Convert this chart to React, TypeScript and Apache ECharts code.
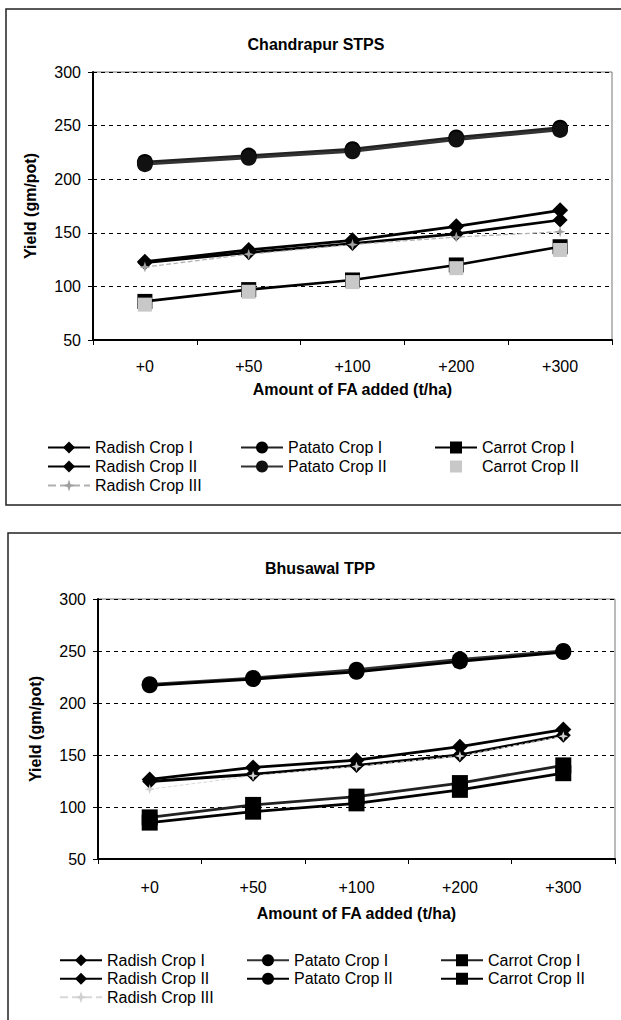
import React, { useEffect, useRef } from "react";
import * as echarts from "echarts";

const FONT = "'Liberation Sans', Arial, sans-serif";

const categories = ["+0", "+50", "+100", "+200", "+300"];
const seriesNames = [
  "Radish Crop I",
  "Patato Crop I",
  "Carrot Crop I",
  "Radish Crop II",
  "Patato Crop II",
  "Carrot Crop II",
  "Radish Crop III",
];

// Chandrapur STPS
const chandRadish1 = [123, 134, 143, 156, 171];
const chandPatato1 = [216, 222, 228, 239, 248];
const chandCarrot1 = [86, 97, 106, 120, 137];
const chandRadish2 = [122, 131.5, 140, 149, 162];
const chandPatato2 = [214, 220, 226, 237, 246];
const chandCarrot2 = [83, 95, 104, 117, 134];
const chandRadish3 = [118, 130, 139, 146, 151];

// Bhusawal TPP
const bhuRadish1 = [126.5, 138, 145, 158, 174.5];
const bhuPatato1 = [218, 224, 232, 242, 250];
const bhuCarrot1 = [90, 102, 110, 123, 140];
const bhuRadish2 = [124.5, 131.5, 140, 150, 169];
const bhuPatato2 = [217, 223, 230, 240, 249];
const bhuCarrot2 = [85, 95.5, 103.5, 116.5, 132.5];
const bhuRadish3 = [117, 130, 139, 149, 168];

const STAR = "path://M5,0 L6.2,3.8 L10,5 L6.2,6.2 L5,10 L3.8,6.2 L0,5 L3.8,3.8 Z";

function lineSeries(name, data, symbol, size, color, lineColor, lineWidth, lineType, lineOpacity) {
  return {
    type: "line",
    name,
    data,
    symbol,
    symbolSize: size,
    showSymbol: true,
    itemStyle: { color, borderColor: color, borderWidth: 0 },
    lineStyle: { color: lineColor, width: lineWidth, type: lineType, opacity: lineOpacity },
    emphasis: { disabled: true },
  };
}

function buildOption(c) {
  const legendText = { fontFamily: FONT, fontSize: 16, color: "#000", lineHeight: c.legendLine };
  const legendBase = {
    orient: "vertical",
    top: c.legendTop,
    itemWidth: 42,
    itemHeight: 15,
    itemGap: 0,
    padding: 0,
    textStyle: legendText,
    selectedMode: false,
  };
  return {
    animation: false,
    backgroundColor: "#ffffff",
    title: {
      text: c.title,
      left: c.titleX,
      top: c.titleTop,
      textAlign: "center",
      padding: 0,
      textStyle: { fontFamily: FONT, fontSize: 16, fontWeight: "bold", color: "#000" },
    },
    graphic: [
      {
        type: "rect",
        silent: true,
        shape: { x: c.box[0], y: c.box[1], width: c.box[2], height: c.box[3] },
        style: { fill: "none", stroke: "#222", lineWidth: 1.5 },
      },
    ],
    grid: {
      left: c.grid[0],
      top: c.grid[1],
      width: c.grid[2],
      height: c.grid[3],
      show: true,
      borderColor: "#777",
      borderWidth: 1,
      backgroundColor: "transparent",
    },
    xAxis: {
      type: "category",
      data: categories,
      boundaryGap: true,
      axisLine: { show: true, lineStyle: { color: "#000", width: 2 } },
      axisTick: { show: true, length: 5, inside: false, lineStyle: { color: "#000", width: 1 } },
      axisLabel: { fontFamily: FONT, fontSize: 16, color: "#000", margin: c.xLabelMargin },
      name: "Amount of FA added (t/ha)",
      nameLocation: "middle",
      nameGap: c.xNameGap,
      nameTextStyle: { fontFamily: FONT, fontSize: 16, fontWeight: "bold", color: "#000" },
      splitLine: { show: false },
    },
    yAxis: {
      type: "value",
      min: 50,
      max: 300,
      interval: 50,
      axisLine: { show: true, lineStyle: { color: "#000", width: 2 } },
      axisTick: { show: true, length: 5, inside: false, lineStyle: { color: "#000", width: 1 } },
      axisLabel: { fontFamily: FONT, fontSize: 16, color: "#000", margin: 12 },
      splitLine: { show: true, lineStyle: { color: "#000", width: 1, type: [4, 4] } },
      name: "Yield (gm/pot)",
      nameLocation: "middle",
      nameGap: c.yNameGap,
      nameRotate: 90,
      nameTextStyle: { fontFamily: FONT, fontSize: 16, fontWeight: "bold", color: "#000" },
    },
    legend: [
      { ...legendBase, left: c.legendX[0], data: [seriesNames[0], seriesNames[3], seriesNames[6]] },
      { ...legendBase, left: c.legendX[1], data: [seriesNames[1], seriesNames[4]] },
      { ...legendBase, left: c.legendX[2], data: [seriesNames[2], seriesNames[5]] },
    ],
    series: c.series,
  };
}

const chandOption = buildOption({
  title: "Chandrapur STPS",
  titleX: 316,
  titleTop: 36,
  box: [6, 9, 640, 496],
  grid: [93, 72, 519, 268],
  xLabelMargin: 18,
  xNameGap: 41,
  yNameGap: 55,
  legendTop: 438,
  legendLine: 19,
  legendX: [47, 240, 434],
  series: [
    lineSeries(seriesNames[0], chandRadish1, "diamond", 16, "#000", "#000", 2.8, "solid", 1),
    lineSeries(seriesNames[1], chandPatato1, "circle", 16, "#000", "#222", 2.8, "solid", 1),
    lineSeries(seriesNames[2], chandCarrot1, "rect", 15, "#000", "#000", 2.6, "solid", 1),
    lineSeries(seriesNames[3], chandRadish2, "diamond", 15, "#000", "#000", 2.6, "solid", 1),
    lineSeries(seriesNames[4], chandPatato2, "circle", 16, "#111", "#333", 2.8, "solid", 1),
    lineSeries(seriesNames[5], chandCarrot2, "rect", 14, "#c8c8c8", "#c8c8c8", 0, "solid", 0),
    lineSeries(seriesNames[6], chandRadish3, STAR, 11, "#a0a0a0", "#b0b0b0", 1.2, "dashed", 1),
  ],
});

const bhuOption = buildOption({
  title: "Bhusawal TPP",
  titleX: 320,
  titleTop: 40,
  box: [8, 13, 640, 520],
  grid: [98, 79, 517, 260],
  xLabelMargin: 20,
  xNameGap: 46,
  yNameGap: 55,
  legendTop: 431,
  legendLine: 18.5,
  legendX: [59, 246, 440],
  series: [
    lineSeries(seriesNames[0], bhuRadish1, "diamond", 16, "#000", "#000", 2.8, "solid", 1),
    lineSeries(seriesNames[1], bhuPatato1, "circle", 16, "#000", "#333", 2.8, "solid", 1),
    lineSeries(seriesNames[2], bhuCarrot1, "rect", 16, "#000", "#222", 2.8, "solid", 1),
    lineSeries(seriesNames[3], bhuRadish2, "diamond", 15, "#000", "#000", 2.8, "solid", 1),
    lineSeries(seriesNames[4], bhuPatato2, "circle", 16, "#000", "#000", 2.8, "solid", 1),
    lineSeries(seriesNames[5], bhuCarrot2, "rect", 16, "#000", "#000", 2.8, "solid", 1),
    lineSeries(seriesNames[6], bhuRadish3, STAR, 10, "#d0d0d0", "#d8d8d8", 1, "dashed", 1),
  ],
});

function Chart({ option, top, height }) {
  const ref = useRef(null);
  useEffect(() => {
    if (!ref.current) return;
    const chart = echarts.init(ref.current, null, { renderer: "svg" });
    chart.setOption(option);
    return () => chart.dispose();
  }, [option]);
  return (
    <div
      ref={ref}
      style={{ position: "absolute", left: 0, top, width: 621, height, background: "#fff" }}
    />
  );
}

export default function App() {
  return (
    <div style={{ position: "absolute", left: 0, top: 0, width: 621, height: 1020, background: "#fff" }}>
      <Chart option={chandOption} top={0} height={520} />
      <Chart option={bhuOption} top={520} height={500} />
    </div>
  );
}
